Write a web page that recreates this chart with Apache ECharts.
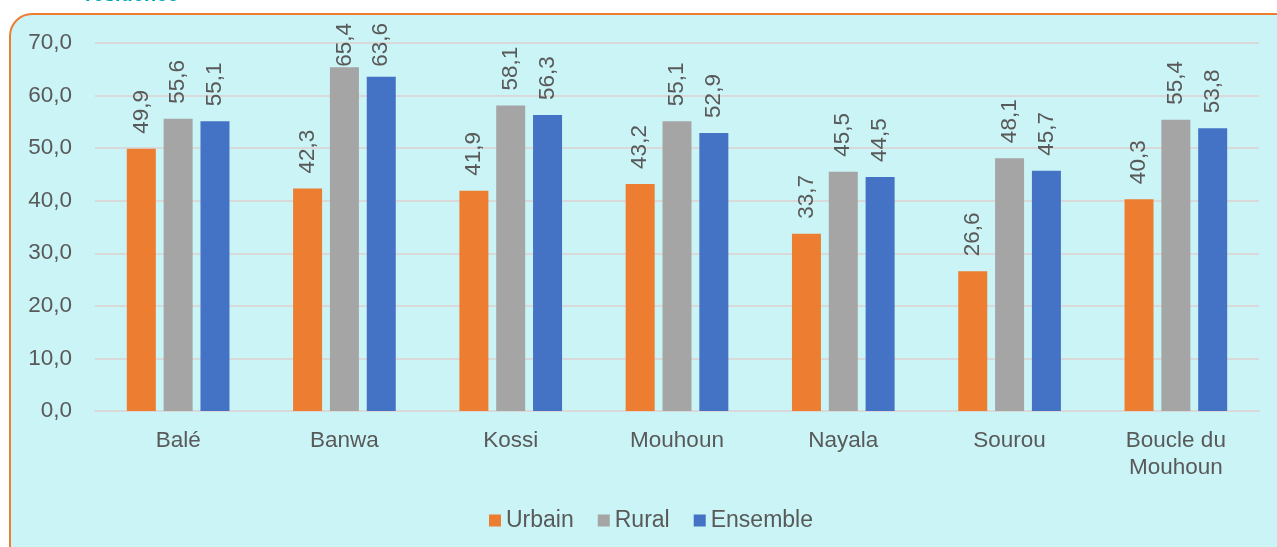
<!DOCTYPE html>
<html>
<head>
<meta charset="utf-8">
<script src="https://cdn.jsdelivr.net/npm/echarts@6/dist/echarts.min.js"></script>
<style>
  html, body { margin: 0; padding: 0; background: #fff; }
  #myChart { width: 1277px; height: 547px; }
</style>
</head>
<body>
<div id="myChart"></div>
<script>
var categories = ['Balé', 'Banwa', 'Kossi', 'Mouhoun', 'Nayala', 'Sourou', 'Boucle du\nMouhoun'];
var urbain = [49.9, 42.3, 41.9, 43.2, 33.7, 26.6, 40.3];
var rural = [55.6, 65.4, 58.1, 55.1, 45.5, 48.1, 55.4];
var ensemble = [55.1, 63.6, 56.3, 52.9, 44.5, 45.7, 53.8];

function fmt(v) {
  return v.toFixed(1).replace('.', ',');
}

var labelStyle = {
  show: true,
  position: 'top',
  rotate: 90,
  align: 'left',
  verticalAlign: 'middle',
  distance: 15,
  color: '#595959',
  fontSize: 22.5,
  fontFamily: 'Liberation Sans, Arial',
  formatter: function (p) { return fmt(p.value); }
};

// keep labels inside the chart box, like the original does
function clampLabel(p) {
  var r = p.labelRect;
  if (r.y < 23) {
    return { x: r.x + r.width / 2, y: 23 + r.height };
  }
}

function mkSeries(name, data, color) {
  return {
    name: name,
    type: 'bar',
    data: data,
    barWidth: 29,
    barGap: '27%',
    itemStyle: { color: color },
    label: labelStyle,
    labelLayout: clampLabel
  };
}

var myChart = echarts.init(document.getElementById('myChart'));
var option = {
  backgroundColor: '#fff',
  textStyle: { fontFamily: 'Liberation Sans, Arial' },
  graphic: [
    {
      type: 'rect',
      z: -10,
      shape: { x: 10, y: 14, width: 1300, height: 580, r: 22 },
      style: { fill: '#CBF4F6', stroke: '#ED7D31', lineWidth: 2 }
    },
    {
      type: 'text',
      z: -5,
      left: 85,
      top: -15,
      style: {
        text: 'résidence',
        fill: '#00A3B4',
        font: 'bold 20px Liberation Sans, Arial'
      }
    }
  ],
  legend: {
    bottom: 10,
    left: 484,
    itemWidth: 12,
    itemHeight: 12,
    itemGap: 24,
    icon: 'rect',
    textStyle: { color: '#595959', fontSize: 23 },
    data: ['Urbain', 'Rural', 'Ensemble']
  },
  grid: { left: 95, right: 18, top: 43, bottom: 136 },
  xAxis: {
    type: 'category',
    data: categories,
    axisTick: { show: false },
    axisLine: { lineStyle: { color: '#D9D9D9', width: 2 } },
    axisLabel: { color: '#595959', fontSize: 22.5, margin: 16, lineHeight: 27 }
  },
  yAxis: {
    type: 'value',
    min: 0,
    max: 70,
    interval: 10,
    axisLine: { show: false },
    axisTick: { show: false },
    splitLine: { lineStyle: { color: '#D9D9D9', width: 2 } },
    axisLabel: {
      color: '#595959',
      fontSize: 22.5,
      margin: 23,
      formatter: function (v) { return fmt(v); }
    }
  },
  series: [
    mkSeries('Urbain', urbain, '#ED7D31'),
    mkSeries('Rural', rural, '#A5A5A5'),
    mkSeries('Ensemble', ensemble, '#4472C4')
  ]
};
myChart.setOption(option);
</script>
</body>
</html>
